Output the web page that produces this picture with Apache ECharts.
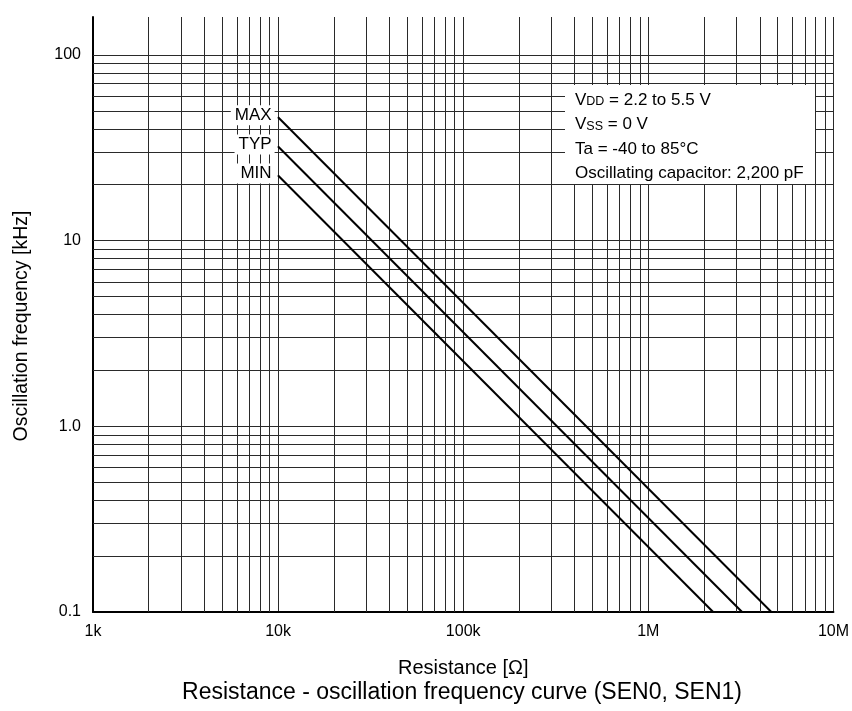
<!DOCTYPE html>
<html>
<head>
<meta charset="utf-8">
<script src="https://cdn.jsdelivr.net/npm/echarts@6/dist/echarts.min.js"></script>
<style>
  html, body { margin: 0; padding: 0; background: #fff; }
  #chart { width: 852px; height: 711px; }
</style>
</head>
<body>
<div id="chart"></div>
<script>
// curve end points: [resistance (ohm), frequency (kHz)]
const maxCurve = [[1e4, 46.2], [4.62e6, 0.1]];
const typCurve = [[1e4, 32.1], [3.21e6, 0.1]];
const minCurve = [[1e4, 22.4], [2.24e6, 0.1]];
const curveNames = ['MAX', 'TYP', 'MIN'];

const xTickLabels = { '3': '1k', '4': '10k', '5': '100k', '6': '1M', '7': '10M' };
const yTickLabels = { '-1': '0.1', '0': '1.0', '1': '10', '2': '100' };

// log grid: 2..9 inside each decade
const mantissas = [2, 3, 4, 5, 6, 7, 8, 9];
const xDecades = [1e3, 1e4, 1e5, 1e6];
const yDecades = [0.1, 1, 10];
const yMajor = [1, 10, 100];

const xMinor = [];
xDecades.forEach(d => mantissas.forEach(m => xMinor.push(+(d * m).toPrecision(6))));
const yMinor = [];
yDecades.forEach(d => mantissas.forEach(m => yMinor.push(+(d * m).toPrecision(6))));

const font = '"Liberation Sans", Arial, sans-serif';
const gridColor = '#2a2a2a';

function decadeLabel(v, table) {
    const l = Math.log10(v);
    const e = Math.round(l);
    if (Math.abs(l - e) > 1e-6) return '';
    return table[String(e)] || '';
}

function curveSeries(name, data) {
    return {
        name: name,
        type: 'line',
        z: 5,
        data: data.map((p, i) => i === 0 ? {
            value: p,
            label: {
                show: true,
                position: 'left',
                distance: 3,
                offset: [0, -2],
                formatter: name,
                color: '#000',
                fontFamily: font,
                fontSize: 17,
                backgroundColor: '#fff',
                padding: [2, 3, 1, 4]
            }
        } : p),
        symbol: 'circle',
        symbolSize: 1,
        showSymbol: true,
        itemStyle: { color: '#000' },
        silent: true,
        animation: false,
        lineStyle: { color: '#000', width: 2 }
    };
}

const gridLine = { color: gridColor, width: 1, type: 'solid' };

const option = {
    animation: false,
    grid: { left: 93, right: 15, top: 17, bottom: 99 },
    xAxis: {
        type: 'log',
        logBase: 10,
        min: 1e3,
        max: 1e7,
        name: 'Resistance [\u03a9]',
        nameLocation: 'middle',
        nameGap: 46,
        nameTextStyle: { color: '#000', fontFamily: font, fontSize: 20 },
        axisLine: { lineStyle: { color: '#000', width: 2 } },
        axisTick: { show: false },
        axisLabel: {
            color: '#000',
            fontFamily: font,
            fontSize: 16,
            margin: 12,
            formatter: v => decadeLabel(v, xTickLabels)
        },
        splitLine: { show: true, lineStyle: gridLine }
    },
    yAxis: {
        type: 'log',
        logBase: 10,
        min: 0.1,
        max: 160,
        axisLine: { show: true, lineStyle: { color: '#000', width: 2 } },
        axisTick: { show: false },
        axisLabel: {
            color: '#000',
            fontFamily: font,
            fontSize: 16,
            margin: 12,
            formatter: v => decadeLabel(v, yTickLabels)
        },
        splitLine: { show: false }
    },
    series: [
        {
            name: 'grid',
            type: 'line',
            data: [],
            z: 1,
            silent: true,
            markLine: {
                silent: true,
                symbol: 'none',
                animation: false,
                label: { show: false },
                lineStyle: gridLine,
                data: [
                    ...xMinor.map(v => ({ xAxis: v })),
                    ...yMinor.map(v => ({ yAxis: v })),
                    ...yMajor.map(v => ({ yAxis: v }))
                ]
            }
        },
        curveSeries(curveNames[0], maxCurve),
        curveSeries(curveNames[1], typCurve),
        curveSeries(curveNames[2], minCurve)
    ],
    graphic: [
        {
            type: 'rect',
            z: 10,
            shape: { x: 565, y: 85, width: 250, height: 99 },
            style: { fill: '#fff' }
        },
        {
            type: 'text',
            z: 11,
            x: 575,
            y: 88,
            style: {
                text: '{a|V}{s|DD}{a| = 2.2 to 5.5 V}\n{a|V}{s|SS}{a| = 0 V}\n{a|Ta = -40 to 85\u00b0C}\n{a|Oscillating capacitor: 2,200 pF}',
                fill: '#000',
                font: '17px ' + font,
                rich: {
                    a: { fontFamily: font, fontSize: 17, lineHeight: 24.5, fill: '#000' },
                    s: { fontFamily: font, fontSize: 12.5, lineHeight: 24.5, fill: '#000', padding: [3, 0, 0, 0] }
                }
            }
        },
        {
            type: 'text',
            x: 22,
            y: 326,
            rotation: Math.PI / 2,
            style: {
                text: 'Oscillation frequency [kHz]',
                fill: '#000',
                font: '19.5px ' + font,
                align: 'center',
                verticalAlign: 'middle'
            }
        },
        {
            type: 'text',
            x: 462,
            y: 693,
            style: {
                text: 'Resistance - oscillation frequency curve (SEN0, SEN1)',
                fill: '#000',
                font: '23px ' + font,
                align: 'center',
                verticalAlign: 'middle'
            }
        }
    ]
};

const chart = echarts.init(document.getElementById('chart'));
chart.setOption(option);
</script>
</body>
</html>
